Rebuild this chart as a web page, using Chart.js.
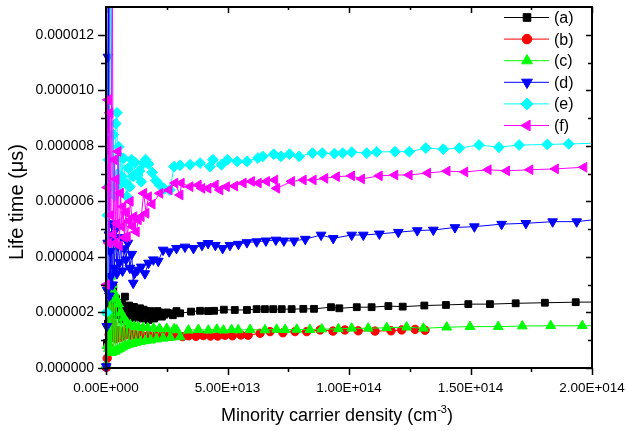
<!DOCTYPE html>
<html><head><meta charset="utf-8">
<script src="https://cdn.jsdelivr.net/npm/chart.js@4"></script>
<style>html,body{margin:0;padding:0;background:#fff}#wrap{width:626px;height:431px}</style>
</head><body><div id="wrap"><canvas id="c" width="626" height="431"></canvas></div>
<script>
// x values: minority carrier density in units of 1e13 cm^-3 ; y values: life time in units of 1e-6
const seriesLabels = ['(a)','(b)','(c)','(d)','(e)','(f)'];
const xAxisTitle = ['Minority carrier density (cm', '-3', ')'];
const yAxisTitle = 'Life time (\u03BCs)';

const aX = [0.01,0.04,0.08,0.12,0.16,0.2,0.25,0.3,0.35,0.42,0.5,0.58,0.66,0.74,0.78,0.84,0.9,0.95,1.0,1.05,1.1,1.15,1.2,1.25,1.3,1.35,1.4,1.45,1.5,1.55,1.6,1.68,1.75,1.82,1.9,1.98,2.05,2.12,2.2,2.3,2.4,2.5,2.63,2.75,2.9,3.05,3.5,3.87,4.2,4.45,4.85,5.3,5.8,6.2,6.54,6.88,7.23,7.64,8.12,8.56,9.26,9.6,10.32,10.93,11.62,12.21,13.1,13.99,14.91,15.8,16.86,18.06,19.33,20.6];
const aY = [0.05,0.9,1.6,2.3,1.9,2.6,2.1,2.9,2.2,2.5,1.9,2.35,1.75,2.2,2.57,2.05,1.95,2.25,2.2,1.85,1.8,2.2,2.1,1.95,1.85,2.0,2.15,1.78,1.9,2.1,2.05,1.9,1.73,2.05,2.0,1.78,1.85,2.05,2.0,1.85,1.92,2.0,1.97,1.9,2.05,1.97,2.03,2.06,2.05,2.06,2.1,2.09,2.09,2.12,2.12,2.12,2.12,2.12,2.13,2.13,2.19,2.15,2.19,2.19,2.23,2.21,2.25,2.27,2.3,2.3,2.33,2.35,2.37,2.38];

const bX = [0.01,0.05,0.09,0.13,0.18,0.23,0.28,0.34,0.4,0.48,0.56,0.64,0.72,0.86,0.95,1.05,1.15,1.3,1.45,1.6,1.75,1.9,2.05,2.25,2.45,2.65,2.9,3.15,3.4,3.7,4.0,4.3,4.6,4.9,5.2,5.55,5.85,6.34,6.75,7.28,7.78,8.26,8.81,9.34,9.83,10.38,11.07,11.73,12.17,12.72,13.13];
const bY = [0.02,0.35,0.8,1.2,1.7,2.15,1.6,1.3,1.05,1.35,1.1,1.3,1.15,1.44,1.2,1.17,1.22,1.14,1.2,1.13,1.18,1.12,1.16,1.13,1.16,1.14,1.17,1.13,1.16,1.14,1.17,1.15,1.15,1.18,1.16,1.19,1.18,1.25,1.31,1.27,1.31,1.31,1.37,1.33,1.37,1.34,1.33,1.34,1.37,1.39,1.36];

const cX = [0.01,0.04,0.07,0.1,0.13,0.16,0.19,0.22,0.26,0.3,0.34,0.38,0.42,0.47,0.52,0.57,0.62,0.68,0.74,0.8,0.86,0.93,1.0,1.08,1.16,1.24,1.32,1.42,1.52,1.62,1.72,1.84,1.96,2.08,2.2,2.35,2.5,2.65,2.8,2.91,3.05,3.39,3.8,4.21,4.56,4.83,5.17,5.44,5.93,6.54,7.02,7.37,7.85,8.39,8.88,9.56,10.11,10.79,11.55,12.37,13.06,14.02,14.98,16.14,17.13,18.3,19.6,20.6];
const cY = [0.1,0.8,2.0,0.7,2.9,0.6,3.3,0.55,3.0,0.6,2.7,0.6,2.5,0.65,2.3,0.7,2.0,0.75,1.8,0.8,1.65,0.85,1.55,0.88,1.5,0.92,1.48,0.95,1.45,0.98,1.45,1.0,1.43,1.04,1.42,1.07,1.42,1.1,1.41,1.37,1.12,1.36,1.38,1.36,1.39,1.36,1.38,1.37,1.38,1.37,1.39,1.38,1.39,1.38,1.4,1.41,1.43,1.43,1.45,1.47,1.43,1.47,1.49,1.49,1.51,1.52,1.52,1.53];

const dX = [0.01,0.03,0.05,0.07,0.08,0.1,0.12,0.14,0.17,0.2,0.23,0.27,0.31,0.35,0.4,0.45,0.5,0.56,0.62,0.68,0.75,0.82,0.9,0.98,1.06,1.12,1.18,1.3,1.45,1.6,1.75,1.95,2.15,2.35,2.6,2.9,3.25,3.6,3.95,4.2,4.5,4.8,5.1,5.45,5.8,6.2,6.58,6.99,7.32,7.74,8.2,8.85,9.35,10.11,10.59,11.25,12.03,12.81,13.47,14.36,15.16,16.28,17.28,18.38,19.37,20.5];
const dY = [0.05,1.5,2.8,4.5,11.2,15.0,4.8,2.6,4.2,3.3,5.2,3.0,4.6,3.6,5.0,3.4,4.4,3.8,4.7,3.5,4.3,3.9,4.5,3.6,4.1,3.06,3.42,3.53,3.64,3.4,3.78,3.9,3.85,4.25,4.19,4.31,4.36,4.31,4.42,4.49,4.42,4.31,4.42,4.46,4.52,4.55,4.58,4.61,4.58,4.58,4.64,4.79,4.67,4.79,4.79,4.83,4.89,4.95,4.97,5.06,5.09,5.18,5.21,5.27,5.27,5.38];

const eX = [0.02,0.06,0.1,0.14,0.2,0.26,0.3,0.35,0.4,0.45,0.48,0.52,0.56,0.6,0.65,0.72,0.78,0.86,0.92,0.98,1.05,1.12,1.2,1.3,1.38,1.45,1.55,1.63,1.75,1.9,2.05,2.2,2.4,2.63,2.8,3.05,3.46,3.87,4.28,4.4,4.75,5.0,5.4,5.8,6.25,6.45,6.9,7.2,7.55,7.95,8.5,8.9,9.4,9.74,10.11,10.73,11.14,11.89,12.48,13.16,13.88,14.54,15.35,16.17,17.0,18.16,19.04,20.5];
const eY = [2.0,5.5,7.5,6.6,14.5,6.5,8.4,6.2,8.8,9.19,7.0,7.97,6.6,7.6,6.9,7.55,6.67,6.17,7.2,6.53,7.5,6.9,7.4,6.95,7.1,6.71,7.37,7.5,7.35,7.04,6.75,6.6,6.45,6.41,7.25,7.3,7.32,7.38,7.25,7.5,7.32,7.5,7.44,7.44,7.56,7.62,7.7,7.62,7.7,7.62,7.74,7.74,7.72,7.74,7.77,7.74,7.78,7.79,7.79,7.92,7.88,7.92,8.03,7.95,8.03,8.05,8.07,8.1];

const fX = [0.02,0.05,0.08,0.12,0.16,0.2,0.26,0.3,0.34,0.38,0.42,0.46,0.5,0.55,0.6,0.65,0.7,0.76,0.82,0.88,0.94,1.0,1.1,1.15,1.25,1.33,1.45,1.55,1.65,1.75,1.9,2.22,2.6,2.84,3.05,3.1,3.46,3.8,3.95,4.2,4.5,4.69,4.96,5.3,5.65,5.99,6.27,6.61,6.95,7.03,7.64,8.12,8.53,9.01,9.49,10.11,10.52,11.25,11.89,12.48,13.24,14.04,14.77,15.73,16.49,17.45,18.5,19.67];
const fY = [3.0,6.5,9.66,4.5,9.19,5.5,14.5,4.8,7.5,4.5,6.8,5.2,7.8,4.4,6.3,5.09,5.81,4.7,5.6,4.73,5.3,6.0,5.09,5.45,4.9,5.33,5.45,6.29,5.57,6.17,5.9,6.29,6.41,6.66,6.23,6.66,6.53,6.59,6.47,6.47,6.59,6.41,6.53,6.55,6.66,6.72,6.66,6.72,6.77,6.47,6.72,6.77,6.77,6.83,6.89,6.92,6.81,6.92,6.95,6.95,7.02,7.09,7.06,7.14,7.1,7.14,7.17,7.23];

const xTickStep = 5, xMin = 0, xMax = 20;
const yTickStep = 2, yMin = 0, yMax = 13;

const FONT = "'Liberation Sans', Arial, sans-serif";
const seriesX = [aX,bX,cX,dX,eX,fX];
const seriesY = [aY,bY,cY,dY,eY,fY];
const colors = ['#000000','#ff0000','#00ff00','#0000ff','#00ffff','#ff00ff'];
const styles = [
  {pointStyle:'rect', radius:4.8, rotation:0},
  {pointStyle:'circle', radius:4.2, rotation:0},
  {pointStyle:'triangle', radius:5.6, rotation:0},
  {pointStyle:'triangle', radius:5.6, rotation:180},
  {pointStyle:'rectRot', radius:5.4, rotation:0},
  {pointStyle:'triangle', radius:5.6, rotation:270}
];

const datasets = seriesLabels.map((lab,i)=>({
  label: lab,
  data: seriesX[i].map((x,k)=>({x:x, y:seriesY[i][k]})),
  showLine: true,
  borderColor: colors[i],
  backgroundColor: colors[i],
  borderWidth: 1,
  pointStyle: styles[i].pointStyle,
  pointRadius: styles[i].radius,
  pointHoverRadius: styles[i].radius,
  pointRotation: styles[i].rotation,
  pointBorderWidth: 1,
  pointBackgroundColor: colors[i],
  pointBorderColor: colors[i],
  tension: 0,
  order: 6 - i,
  clip: {left: 6, top: 0, right: 0, bottom: 6}
}));

function fmtX(v){
  const s = (v*1e13).toExponential(2).toUpperCase();
  const parts = s.split('E');
  const sign = parts[1][0];
  return parts[0] + 'E' + sign + parts[1].slice(1).padStart(3,'0');
}
function fmtY(v){ return (v*1e-6).toFixed(6); }

const framePlugin = {
  id: 'frame',
  afterDraw(chart){
    const ctx = chart.ctx;
    const {left,right,top,bottom} = chart.chartArea;
    const xs = chart.scales.x, ys = chart.scales.y;
    ctx.save();
    ctx.strokeStyle = '#000';
    ctx.lineWidth = 2;
    ctx.strokeRect(left, top, right-left, bottom-top);
    ctx.lineWidth = 1.5;
    const xv = xs.ticks.map(t=>t.value);
    const yv = ys.ticks.map(t=>t.value);
    const xMinor = [], yMinor = [];
    for (let i=0;i<xv.length-1;i++) xMinor.push((xv[i]+xv[i+1])/2);
    for (let i=0;i<yv.length-1;i++) yMinor.push((yv[i]+yv[i+1])/2);
    ctx.beginPath();
    xv.forEach(v=>{ const p = Math.round(xs.getPixelForValue(v))+0.5;
      ctx.moveTo(p,bottom); ctx.lineTo(p,bottom+7);
      ctx.moveTo(p,top); ctx.lineTo(p,top+6); });
    xMinor.forEach(v=>{ const p = Math.round(xs.getPixelForValue(v))+0.5;
      ctx.moveTo(p,bottom); ctx.lineTo(p,bottom+4);
      ctx.moveTo(p,top); ctx.lineTo(p,top+3); });
    yv.forEach(v=>{ const p = Math.round(ys.getPixelForValue(v))+0.5;
      ctx.moveTo(left,p); ctx.lineTo(left-8,p);
      ctx.moveTo(right,p); ctx.lineTo(right-6,p); });
    yMinor.forEach(v=>{ const p = Math.round(ys.getPixelForValue(v))+0.5;
      ctx.moveTo(left,p); ctx.lineTo(left-5,p);
      ctx.moveTo(right,p); ctx.lineTo(right-4,p); });
    ctx.stroke();
    ctx.restore();
  }
};

const titlePlugin = {
  id: 'axisTitles',
  afterDraw(chart){
    const ctx = chart.ctx;
    ctx.save();
    ctx.fillStyle = '#000';
    ctx.textBaseline = 'alphabetic';
    ctx.textAlign = 'left';
    const big = '18px ' + FONT, small = '11px ' + FONT;
    ctx.font = big;
    const w1 = ctx.measureText(xAxisTitle[0]).width, w3 = ctx.measureText(xAxisTitle[2]).width;
    ctx.font = small;
    const w2 = ctx.measureText(xAxisTitle[1]).width;
    let x = 337 - (w1 + w2 + w3) / 2;
    const by = 421;
    ctx.font = big; ctx.fillText(xAxisTitle[0], x, by); x += w1;
    ctx.font = small; ctx.fillText(xAxisTitle[1], x, by - 8); x += w2;
    ctx.font = big; ctx.fillText(xAxisTitle[2], x, by);
    ctx.translate(17, 202);
    ctx.rotate(-Math.PI / 2);
    ctx.font = '20px ' + FONT;
    ctx.textAlign = 'center';
    ctx.textBaseline = 'middle';
    ctx.fillText(yAxisTitle, 0, 0);
    ctx.restore();
  }
};

const legendPlugin = {
  id: 'innerLegend',
  afterDraw(chart){
    const ctx = chart.ctx;
    const x0 = 504, x1 = 549, mx = 527, tx = 554, y0 = 17.5, gap = 21.6;
    ctx.save();
    chart.data.datasets.forEach((ds,i)=>{
      const y = y0 + i*gap;
      ctx.strokeStyle = ds.borderColor;
      ctx.lineWidth = 1;
      ctx.beginPath(); ctx.moveTo(x0,y); ctx.lineTo(x1,y); ctx.stroke();
      ctx.fillStyle = ds.pointBackgroundColor;
      ctx.strokeStyle = ds.pointBorderColor;
      Chart.helpers.drawPoint(ctx, {pointStyle: ds.pointStyle, radius: ds.pointRadius+0.6, rotation: ds.pointRotation, borderWidth: 1}, mx, y);
      ctx.fillStyle = '#000';
      ctx.font = '16px ' + FONT;
      ctx.textBaseline = 'middle';
      ctx.textAlign = 'left';
      ctx.fillText(ds.label, tx, y+1);
    });
    ctx.restore();
  }
};

new Chart(document.getElementById('c'), {
  type: 'scatter',
  data: { datasets },
  options: {
    responsive: false,
    animation: false,
    devicePixelRatio: 1,
    layout: { padding: {top: 7, right: 34, left: 0, bottom: 0} },
    plugins: { legend: {display: false}, tooltip: {enabled: false} },
    scales: {
      x: {
        type: 'linear', min: xMin, max: xMax,
        afterFit(s){ s.height = 63; s.paddingRight = 0; s.paddingLeft = 0; },
        grid: {display: false, drawTicks: false},
        border: {display: false},
        ticks: {stepSize: xTickStep, padding: 12, color: '#000', maxRotation: 0, autoSkip: false,
                font: {family: FONT, size: 13.5}, callback: fmtX},
        title: {display: false}
      },
      y: {
        type: 'linear', min: yMin, max: yMax,
        afterFit(s){ s.width = 106; s.paddingTop = 0; s.paddingBottom = 0; },
        grid: {display: false, drawTicks: false},
        border: {display: false},
        ticks: {stepSize: yTickStep, padding: 12, color: '#000', includeBounds: false,
                font: {family: FONT, size: 14}, callback: fmtY},
        title: {display: false}
      }
    }
  },
  plugins: [framePlugin, titlePlugin, legendPlugin]
});
</script>
</body></html>
